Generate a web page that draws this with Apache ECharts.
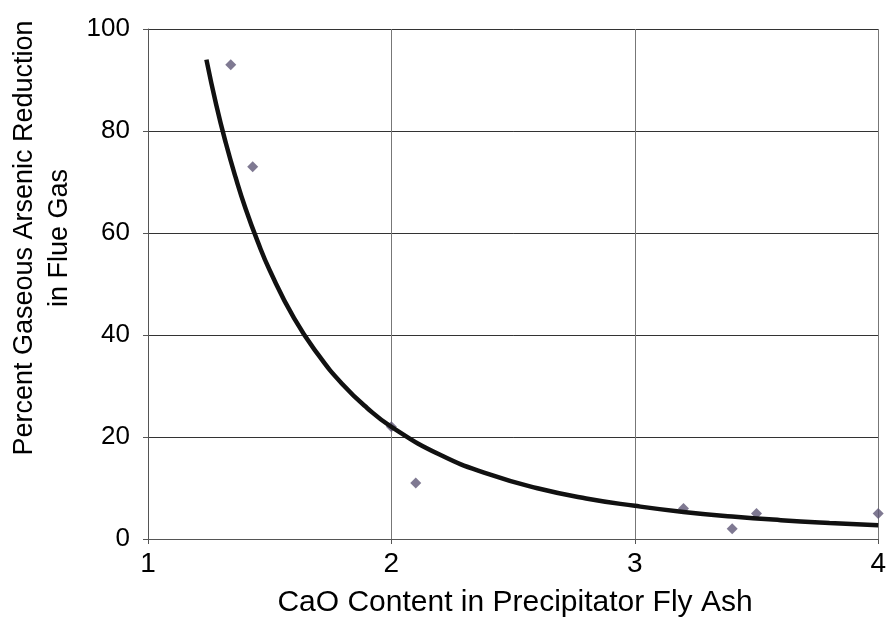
<!DOCTYPE html>
<html>
<head>
<meta charset="utf-8">
<script src="https://cdn.jsdelivr.net/npm/echarts@6/dist/echarts.min.js"></script>
<style>
  html, body { margin: 0; padding: 0; background: #fff; }
  #chart { width: 889px; height: 624px; }
</style>
</head>
<body>
<div id="chart"></div>
<script>
// measured points (CaO content vs percent reduction)
const caoContent = [1.34, 1.43, 2.0, 2.1, 3.2, 3.4, 3.5, 4.0]
const arsenicReduction = [93, 73, 22, 11, 6, 2, 5, 5]

// trend curve
const trendX = [1.24, 1.28, 1.32, 1.36, 1.4, 1.45, 1.5, 1.6, 1.7, 1.8, 1.9, 2.0,
  2.2, 2.4, 2.6, 2.8, 3.0, 3.2, 3.4, 3.6, 3.8, 4.0]
const trendY = [94, 85.2, 77.6, 70.9, 64.9, 58.4, 52.7, 43.3, 36.1, 30.3, 25.7, 22.0,
  16.5, 12.7, 9.95, 7.95, 6.5, 5.3, 4.4, 3.7, 3.15, 2.7]

const xTitle = 'CaO Content in Precipitator Fly Ash'
const yTitle = ['Percent Gaseous Arsenic Reduction', 'in Flue Gas']

const font = '"Liberation Sans", Arial, Helvetica, sans-serif'
const chart = echarts.init(document.getElementById('chart'))

const option = {
  animation: false,
  backgroundColor: '#fff',
  grid: { left: 148, right: 5, top: 29, bottom: 85 },
  xAxis: {
    type: 'value',
    min: 1,
    max: 4,
    interval: 1,
    axisLine: { lineStyle: { color: '#555', width: 1 } },
    axisTick: { show: true, length: 5, lineStyle: { color: '#555' } },
    axisLabel: { color: '#000', fontSize: 28, fontFamily: font, margin: 11 },
    splitLine: { show: true, lineStyle: { color: '#777', width: 1 } }
  },
  yAxis: {
    type: 'value',
    min: 0,
    max: 100,
    interval: 20,
    axisLine: { show: true, lineStyle: { color: '#555', width: 1 } },
    axisTick: { show: true, length: 5, lineStyle: { color: '#555' } },
    axisLabel: {
      color: '#000', fontSize: 26, fontFamily: font, margin: 18,
      padding: [0, 0, 8, 0]
    },
    splitLine: { show: true, lineStyle: { color: '#333', width: 1 } }
  },
  graphic: [
    {
      type: 'text',
      x: 515,
      y: 603,
      style: {
        text: xTitle,
        font: '30px ' + font,
        fill: '#000',
        textAlign: 'center',
        textVerticalAlign: 'middle'
      }
    },
    {
      type: 'text',
      x: 42,
      y: 238,
      rotation: Math.PI / 2,
      style: {
        text: yTitle.join('\n'),
        font: '27px ' + font,
        lineHeight: 35,
        fill: '#000',
        textAlign: 'center',
        textVerticalAlign: 'middle'
      }
    }
  ],
  series: [
    {
      type: 'line',
      data: trendX.map((x, i) => [x, trendY[i]]),
      smooth: true,
      showSymbol: false,
      lineStyle: { color: '#111', width: 4.5 },
      z: 3
    },
    {
      type: 'scatter',
      data: caoContent.map((x, i) => [x, arsenicReduction[i]]),
      symbol: 'diamond',
      symbolSize: 11,
      itemStyle: { color: '#5f5877' },
      z: 2
    }
  ]
}

chart.setOption(option)
</script>
</body>
</html>
